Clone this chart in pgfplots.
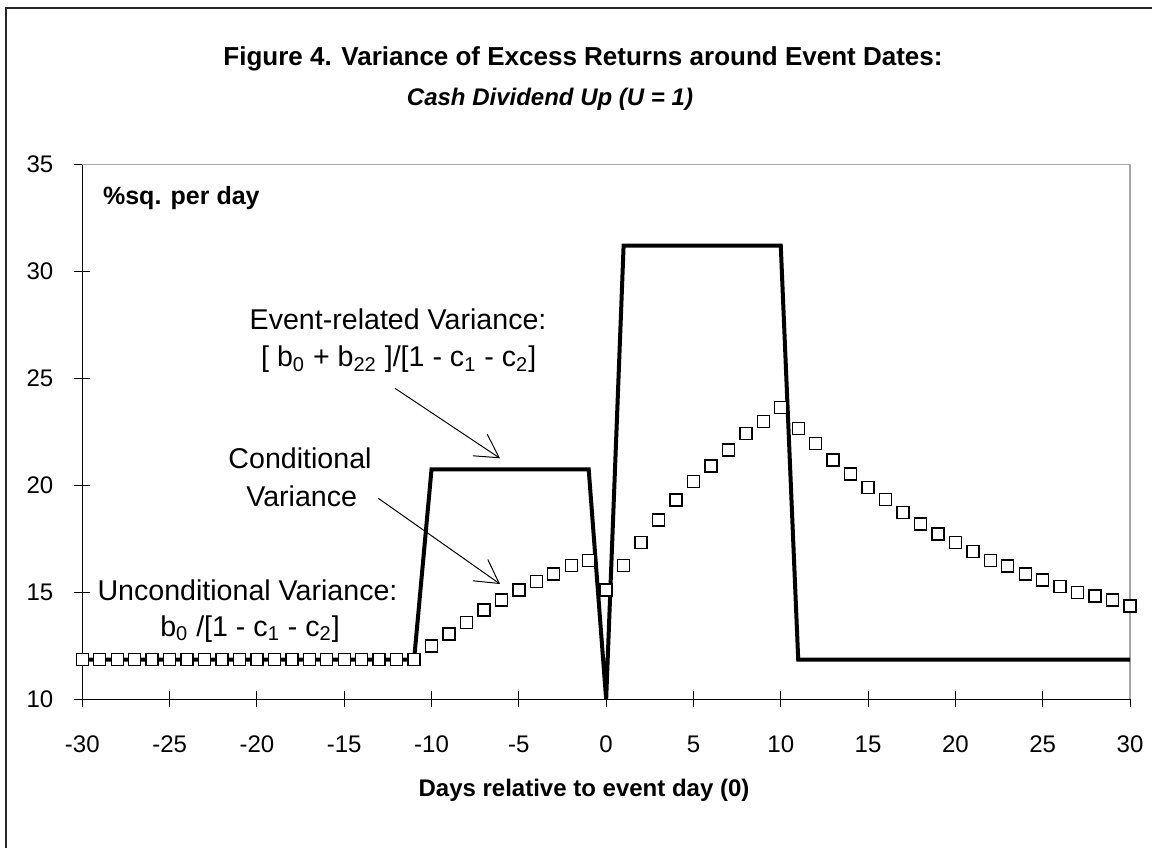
\documentclass[border=0pt]{standalone}
\usepackage{fontspec}
\setmainfont{Liberation Sans}
\usepackage{pgfplots}
\pgfplotsset{compat=1.18}
\usetikzlibrary{arrows.meta}
\begin{document}
\begin{tikzpicture}
\useasboundingbox (0,0) rectangle (576pt,424pt);
\fill[white] (0,0) rectangle (576pt,424pt);
\draw[black!85, line width=1pt] (3pt,0) -- (3pt,420pt) -- (576pt,420pt);
\begin{axis}[
  name=ax,
  at={(41.15pt,74.35pt)}, anchor=south west,
  scale only axis, width=523.85pt, height=267.5pt,
  xmin=-30, xmax=30, ymin=10, ymax=35,
  axis x line*=bottom, axis y line*=left,
  axis line style={black, line width=0.6pt, -},
  xtick={-30,-25,...,30}, ytick={10,15,...,35},
  xticklabels={-30,-25,-20,-15,-10,-5,0,5,10,15,20,25,30},
  yticklabels={10,15,20,25,30,35},
  tick align=center, major tick length=8pt,
  tick style={black, line width=0.5pt},
  ticklabel style={font=\fontsize{12}{14}\selectfont},
  xticklabel style={text height=9pt, text depth=0pt},
  xticklabel shift=10pt, yticklabel shift=7pt,
  clip=false,
]
\draw[gray!70, line width=0.6pt] (rel axis cs:0,1) -- (rel axis cs:1,1) -- (rel axis cs:1,0);
\addplot[black, line width=2pt, line join=miter] coordinates {
  (-30,11.85) (-11,11.85) (-10,20.75) (-1,20.75) (0,10) (1,31.2) (10,31.2) (11,11.85) (30,11.85)};
\addplot[only marks, mark=square*, mark size=3pt, mark options={fill=white, draw=black, line width=0.7pt}] coordinates {
  (-30,11.85) (-29,11.85) (-28,11.85) (-27,11.85) (-26,11.85) (-25,11.85) (-24,11.85) (-23,11.85) (-22,11.85) (-21,11.85)
  (-20,11.85) (-19,11.85) (-18,11.85) (-17,11.85) (-16,11.85) (-15,11.85) (-14,11.85) (-13,11.85) (-12,11.85) (-11,11.85)
  (-10,12.5) (-9,13.05) (-8,13.6) (-7,14.17) (-6,14.64) (-5,15.1) (-4,15.5) (-3,15.86) (-2,16.24) (-1,16.5)
  (0,15.1) (1,16.24) (2,17.34) (3,18.38) (4,19.31) (5,20.17) (6,20.9) (7,21.65) (8,22.42) (9,22.97) (10,23.63)
  (11,22.66) (12,21.96) (13,21.18) (14,20.53) (15,19.89) (16,19.35) (17,18.74) (18,18.19) (19,17.72) (20,17.34)
  (21,16.9) (22,16.5) (23,16.23) (24,15.86) (25,15.57) (26,15.26) (27,15.0) (28,14.83) (29,14.64) (30,14.36)};
\end{axis}
\begin{scope}[x=0.5pt, y=-0.5pt, shift={(0,424pt)}]
  \node[anchor=base, inner sep=0pt] at (583,66) {\fontsize{13}{15}\selectfont\bfseries Figure 4. Variance of Excess Returns around Event Dates:};
  \node[anchor=base, inner sep=0pt] at (550,106) {\fontsize{12}{14}\selectfont\bfseries\itshape Cash Dividend Up (U = 1)};
  \node[anchor=base west, inner sep=0pt] at (102.7,205) {\fontsize{12.5}{15}\selectfont\bfseries \%sq. per day};
  \node[anchor=base, inner sep=0pt] at (584,796.7) {\fontsize{12}{14}\selectfont\bfseries Days relative to event day (0)};
  \node[anchor=base west, inner sep=0pt] at (249.3,330) {\fontsize{14.3}{17}\selectfont Event-related Variance:};
  \node[anchor=base, inner sep=0pt] at (398.7,367) {\fontsize{14.3}{17}\selectfont [ b\textsubscript{0} + b\textsubscript{22} ]/[1 - c\textsubscript{1} - c\textsubscript{2}]};
  \node[anchor=base, inner sep=0pt] at (300,468) {\fontsize{14.3}{17}\selectfont Conditional};
  \node[anchor=base, inner sep=0pt] at (301.7,506) {\fontsize{14.3}{17}\selectfont Variance};
  \node[anchor=base, inner sep=0pt] at (247.5,600) {\fontsize{14.3}{17}\selectfont Unconditional Variance:};
  \node[anchor=base, inner sep=0pt] at (250,636) {\fontsize{14.3}{17}\selectfont b\textsubscript{0} /[1 - c\textsubscript{1} - c\textsubscript{2}]};
  \draw[black, line width=0.5pt, -{Straight Barb[length=11.5pt,width=13pt]}] (395,388.3) -- (500,458.3);
  \draw[black, line width=0.5pt, -{Straight Barb[length=11.5pt,width=13pt]}] (378.3,498.3) -- (500,584);
\end{scope}
\end{tikzpicture}
\end{document}
